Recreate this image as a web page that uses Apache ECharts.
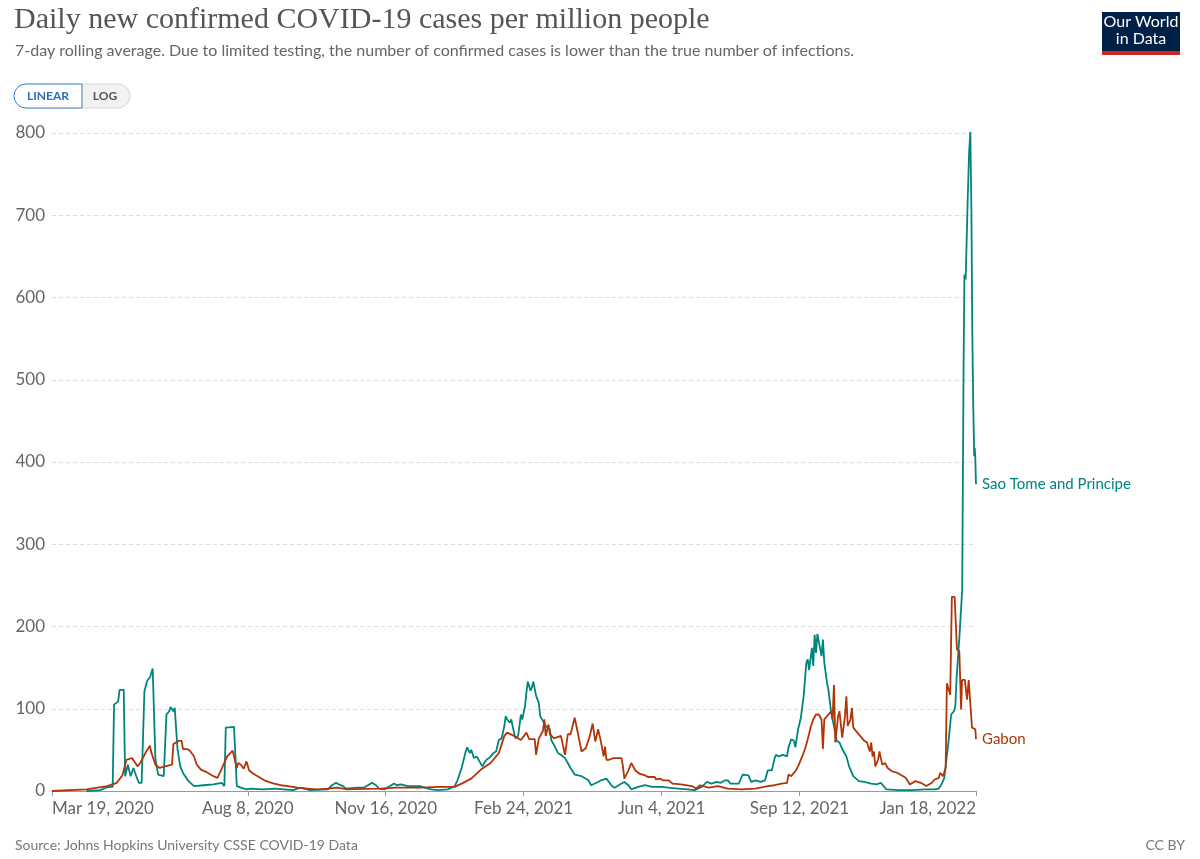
<!DOCTYPE html>
<html><head><meta charset="utf-8">
<script src="https://cdn.jsdelivr.net/npm/echarts@6/dist/echarts.min.js"></script>
<style>html,body{margin:0;padding:0;background:#fff}#c{width:1200px;height:859px}</style>
</head><body><div id="c"></div>
<script>
// x values are days since Mar 19, 2020
const tickDays = [0, 142, 242, 342, 442, 542, 670];
const tickLabels = ['Mar 19, 2020', 'Aug 8, 2020', 'Nov 16, 2020', 'Feb 24, 2021', 'Jun 4, 2021', 'Sep 12, 2021', 'Jan 18, 2022'];
const yMax = 800;
const yInterval = 100;

const stpName = 'Sao Tome and Principe';
const stpDays = [25,35,39,42,44,45,48,49,52,53,55,57,59,62,63,65,67,69,71,73,75,77,78,81,83,85,86,88,89,91,93,95,99,103,110,117,123,125,126,132,133,134,137,141,144,153,161,168,175,180,187,200,203,206,208,211,213,221,226,230,232,235,237,241,246,248,250,253,258,267,270,275,280,287,292,294,297,298,300,301,303,304,306,308,310,312,315,317,320,322,324,326,328,329,330,332,333,335,336,338,340,341,343,344,345,347,348,349,351,353,354,356,358,361,362,364,367,369,372,374,376,379,384,389,391,396,398,402,406,408,413,415,418,420,425,430,435,442,447,454,461,466,471,475,478,482,485,488,490,492,498,500,501,505,507,510,514,517,519,522,524,525,527,530,533,534,536,538,539,541,543,545,547,548,549,551,552,553,554,555,556,558,559,560,562,563,565,567,569,571,573,576,578,581,585,589,594,598,601,605,614,624,633,640,643,645,647,650,652,654,655,656,657,658,660,661,661.6,662.5,664,665,665.9,666.7,667.3,668,668.7,669.1,669.5,670];
const stpValues = [0,1,4,5,5,105,109,123,123,18,32,18,28,14,10,10,121,134,138,149,38,20,18,18,93,97,102,97,101,51,30,22,12,6,7,8,10,6,77,78,77,6,4,2,3,2,3,2,1,4,1,2,7,10,8,6,3,4,4,8,10,7,3,2,7,9,7,8,6,6,4,2,1,2,6,13,28,30,48,53,46,50,40,42,36,30,38,40,46,48,62,64,79,91,87,83,87,71,64,67,93,87,103,120,133,122,126,133,116,107,91,85,79,75,62,56,46,44,40,34,28,20,18,13,7,11,13,15,6,4,9,11,7,2,5,7,5,5,4,3,2,1,5,11,9,11,10,13,13,9,9,17,20,19,11,13,11,13,25,25,40,44,42,44,42,53,63,61,53,75,89,115,156,160,147,174,152,190,168,191,192,164,184,156,131,123,95,79,61,59,51,42,30,18,12,11,9,8,10,2,1,1,2,2,3,8,16,59,93,97,103,139,141,188,245,520,628,622,720,776,802,700,560,470,407,417,405,373];

const gabonName = 'Gabon';
const gabonDays = [0,25,40,47,51,54,58,62,64,68,71,72,75,78,82,87,88,92,94,95,98,100,103,105,108,112,117,120,123,127,131,132,134,135,137,139,141,143,146,150,154,157,161,166,171,178,185,192,200,207,214,226,238,250,263,267,280,292,297,304,311,318,324,328,330,335,340,344,346,350,351,353,356,357,358,360,361,364,369,372,374,376,379,381,384,387,390,392,394,396,398,400,401,402,404,407,413,414,415,418,420,421,423,426,430,432,437,438,441,443,447,448,450,456,464,467,470,476,483,490,500,510,519,524,529,533,534,536,539,541,544,546,548,550,552,554,556,558,559,560,563,565,566,567,568,570,571,573,575,576,577,579,580,581,584,586,589,591,593,594,595,596,597,599,600,602,604,606,609,613,615,619,622,626,630,634,638,640,643,644,646,648,648.9,650.1,651.3,652.5,654.5,656.2,657.9,659.2,659.9,661.9,663.5,664.7,665.9,667.1,669.5,670];
const gabonValues = [0,2,6,10,19,38,40,30,34,47,55,47,32,28,30,32,57,61,61,51,51,49,42,32,26,23,18,16,27,42,49,48,28,34,32,27,36,25,21,17,13,11,9,7,6,4,3,2,3,4,2,2.5,3,4,4,4,5,5,9,15,26,34,46,67,71,67,62,71,63,63,44,64,73,87,67,81,69,64,67,44,69,69,89,73,48,52,67,82,60,75,60,42,54,38,38,40,40,30,15,25,34,32,25,21,19,17,17,14,15,13,13,15,9,8,6,3,7,4,6,3,2,3,6,7,9,10,20,18,24,30,42,51,63,77,87,93,93,87,51,87,93,97,87,129,59,91,97,65,91,115,79,87,101,77,71,67,61,59,48,59,42,48,30,38,48,32,34,28,24,22,20,16,8,12,10,6,10,14,16,22,18,28,131,129,117,236,236,172,170,99,135,135,111,135,135,77,75,63];

const stpColor = '#00847e';
const gabonColor = '#b13507';

const pair = (ds, vs) => ds.map((d, i) => [d, vs[i]]);
const chart = echarts.init(document.getElementById('c'), null, {renderer: 'canvas'});

chart.setOption({
  animation: false,
  backgroundColor: '#fff',
  grid: {left: 52, right: 224, top: 133, bottom: 68, containLabel: false},
  xAxis: {
    type: 'value', min: tickDays[0], max: tickDays[tickDays.length - 1],
    axisLine: {show: true, lineStyle: {color: '#999', width: 1}},
    axisTick: {show: true, customValues: tickDays, length: 5, lineStyle: {color: '#999'}},
    axisLabel: {
      customValues: tickDays,
      formatter: v => tickLabels[tickDays.indexOf(v)],
      color: '#666', fontSize: 17, fontFamily: 'Lato', margin: 9,
      alignMinLabel: 'left', alignMaxLabel: 'right'
    },
    splitLine: {show: false}
  },
  yAxis: {
    type: 'value', min: 0, max: yMax, interval: yInterval,
    axisLine: {show: false}, axisTick: {show: false},
    axisLabel: {color: '#666', fontSize: 17, fontFamily: 'Lato', margin: 7},
    splitLine: {show: true, lineStyle: {color: '#ddd', type: [4, 3], width: 1}}
  },
  series: [
    {
      name: stpName, type: 'line', data: pair(stpDays, stpValues),
      showSymbol: false, symbol: 'none', lineStyle: {color: stpColor, width: 1.8},
      itemStyle: {color: stpColor},
      endLabel: {show: true, formatter: '{a}', color: stpColor, fontSize: 15, fontFamily: 'Lato', distance: 6}
    },
    {
      name: gabonName, type: 'line', data: pair(gabonDays, gabonValues),
      showSymbol: false, symbol: 'none', lineStyle: {color: gabonColor, width: 1.8},
      itemStyle: {color: gabonColor},
      endLabel: {show: true, formatter: '{a}', color: gabonColor, fontSize: 15, fontFamily: 'Lato', distance: 6}
    }
  ],
  graphic: [
    {type: 'text', left: 14, top: 5, style: {text: 'Daily new confirmed COVID-19 cases per million people', fill: '#555', font: '30px "Liberation Serif", serif'}},
    {type: 'text', left: 15, top: 43, style: {text: '7-day rolling average. Due to limited testing, the number of confirmed cases is lower than the true number of infections.', fill: '#666', font: '16px Lato'}},
    {type: 'rect', shape: {x: 14, y: 84, width: 116, height: 24, r: 12}, style: {fill: '#f2f2f2', stroke: '#d6d6d6', lineWidth: 1}},
    {type: 'rect', shape: {x: 14, y: 84, width: 68, height: 24, r: [12, 0, 0, 12]}, style: {fill: '#fff', stroke: '#3f7fc4', lineWidth: 1}},
    {type: 'text', x: 48, y: 96, style: {text: 'LINEAR', fill: '#2f6db5', font: 'bold 12px Lato', textAlign: 'center', textVerticalAlign: 'middle'}},
    {type: 'text', x: 105, y: 96, style: {text: 'LOG', fill: '#555', font: 'bold 12px Lato', textAlign: 'center', textVerticalAlign: 'middle'}},
    {type: 'rect', shape: {x: 1102, y: 12, width: 78, height: 43}, style: {fill: '#002147'}},
    {type: 'rect', shape: {x: 1102, y: 51, width: 78, height: 4}, style: {fill: '#ce261e'}},
    {type: 'text', x: 1141, y: 22, style: {text: 'Our World', fill: '#fff', font: '16px Lato', textAlign: 'center', textVerticalAlign: 'middle'}},
    {type: 'text', x: 1141, y: 39, style: {text: 'in Data', fill: '#fff', font: '16px Lato', textAlign: 'center', textVerticalAlign: 'middle'}},
    {type: 'text', left: 15, top: 838, style: {text: 'Source: Johns Hopkins University CSSE COVID-19 Data', fill: '#777', font: '14px Lato'}},
    {type: 'text', right: 15, top: 838, style: {text: 'CC BY', fill: '#777', font: '14px Lato'}}
  ]
});
</script></body></html>
